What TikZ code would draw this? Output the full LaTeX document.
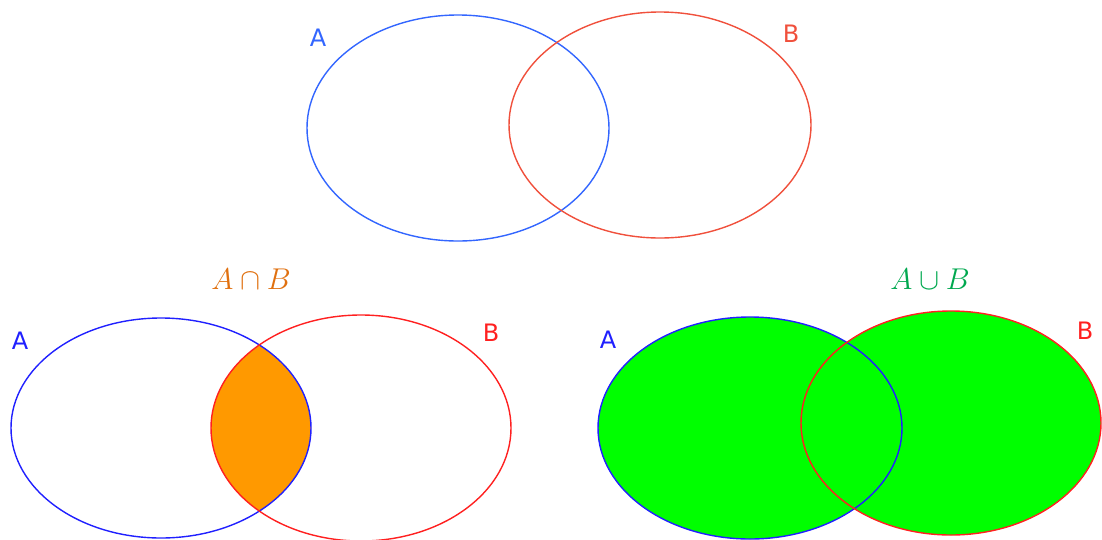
\documentclass[tikz,border=0pt]{standalone}
\usepackage{graphicx}
\usepackage{fontspec}
\newfontfamily\lblfont{DejaVu Sans}
\definecolor{topblue}{HTML}{3366FF}
\definecolor{topred}{HTML}{F0503C}
\definecolor{botblue}{HTML}{2020FF}
\definecolor{botred}{HTML}{FF2020}
\definecolor{orfill}{HTML}{FF9900}
\definecolor{ortext}{HTML}{E0700F}
\definecolor{grfill}{HTML}{00FF00}
\definecolor{grtext}{HTML}{00A84F}
\newcommand{\bigmath}[1]{\scalebox{1.45}{\huge$#1$}}
\begin{document}
\begin{tikzpicture}[x={(1pt,0)},y={(0,-1pt)},
  lbl/.style={font=\lblfont\fontsize{24}{26}\selectfont},
  ttl/.style={},
  edge/.style={line width=1.4pt}]
\useasboundingbox (0,0) rectangle (1102,539);
\clip (0,0) rectangle (1102,539);
% top
\draw[edge,topblue] (458,128) ellipse [x radius=151, y radius=113];
\draw[edge,topred] (660,125) ellipse [x radius=151, y radius=113];
\node[lbl,text=topblue] (ta) at (318,38) {A};
\node[lbl,text=topred] (tb) at (791,34) {B};
% bottom left: intersection
\begin{scope}
  \clip (161,428) ellipse [x radius=150, y radius=110];
  \fill[orfill] (361,428) ellipse [x radius=150, y radius=113];
\end{scope}
\draw[edge,botblue] (161,428) ellipse [x radius=150, y radius=110];
\draw[edge,botred] (361,428) ellipse [x radius=150, y radius=113];
\node[lbl,text=botblue] (la) at (20,341) {A};
\node[lbl,text=botred] (lb) at (491,333) {B};
\node[ttl,text=ortext] (cap) at (251,279) {\bigmath{A\cap B}};
% bottom right: union
\fill[grfill] (750,428) ellipse [x radius=152, y radius=111];
\fill[grfill] (951,423) ellipse [x radius=150, y radius=112];
\draw[edge,botblue] (750,428) ellipse [x radius=152, y radius=111];
\draw[edge,botred] (951,423) ellipse [x radius=150, y radius=112];
\node[lbl,text=botblue] (ra) at (608,340) {A};
\node[lbl,text=botred] (rb) at (1085,331) {B};
\node[ttl,text=grtext] (cup) at (930,279) {\bigmath{A\cup B}};
\end{tikzpicture}
\end{document}
